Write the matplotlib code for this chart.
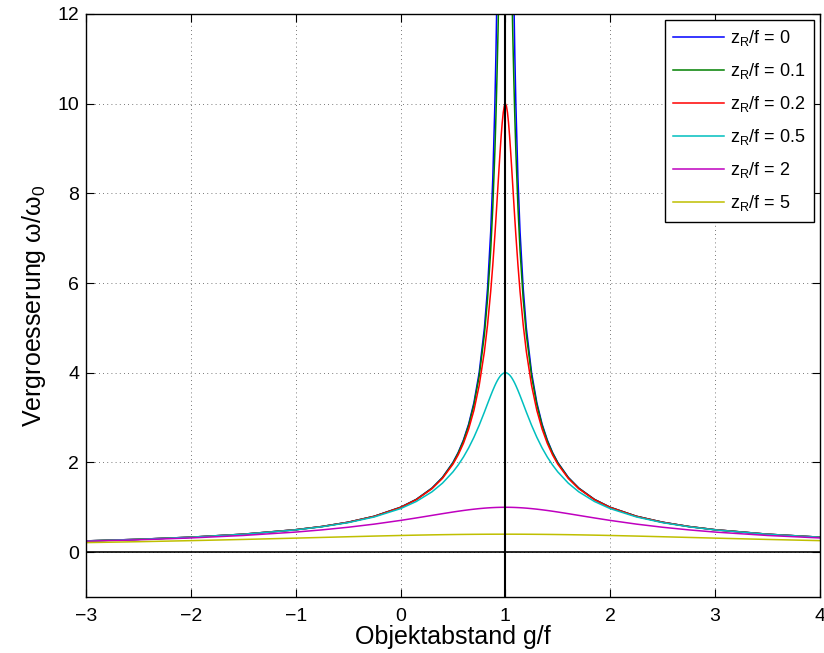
import numpy as np
import matplotlib
matplotlib.use("Agg")
import matplotlib.pyplot as plt

plt.rcParams['font.family'] = ['Liberation Sans', 'DejaVu Sans']
plt.rcParams['mathtext.default'] = 'regular'

# curves are symmetric about the focus g/f = 1; values read as a function of
# the distance |g/f - 1| (left branch reaches 4, right branch reaches 3)
dist = [0, 0.01, 0.02, 0.03, 0.04, 0.05, 0.06, 0.07, 0.08, 0.09, 0.1, 0.12,
        0.14, 0.17, 0.2, 0.25, 0.3, 0.35, 0.4, 0.45, 0.5, 0.6, 0.7, 0.85, 1.0,
        1.25, 1.5, 1.75, 2.0, 2.5, 3.0, 3.5, 4.0]
focus = 1.0
x_min, x_max = -3, 4

zr_labels = ['0', '0.1', '0.2', '0.5', '2', '5']

m_0 = [np.nan, 100, 50, 33.3, 25, 20, 16.67, 14.29, 12.5, 11.11, 10, 8.333,
       7.143, 5.882, 5, 4, 3.333, 2.857, 2.5, 2.222, 2, 1.667, 1.429, 1.176,
       1, 0.8, 0.667, 0.571, 0.5, 0.4, 0.333, 0.286, 0.25]
m_01 = [20, 19.61, 18.57, 17.15, 15.62, 14.14, 12.80, 11.62, 10.60, 9.713,
        8.944, 7.692, 6.727, 5.643, 4.851, 3.922, 3.288, 2.828, 2.481, 2.209,
        1.990, 1.661, 1.425, 1.174, 0.9988, 0.7994, 0.6664, 0.5713, 0.4998,
        0.4, 0.3333, 0.2857, 0.25]
m_02 = [10, 9.950, 9.806, 9.578, 9.285, 8.944, 8.575, 8.192, 7.809, 7.433,
        7.071, 6.402, 5.812, 5.070, 4.472, 3.714, 3.162, 2.747, 2.425, 2.169,
        1.961, 1.644, 1.414, 1.168, 0.995, 0.7975, 0.6652, 0.5705, 0.4994,
        0.3997, 0.3332, 0.2856, 0.2499]
m_05 = [4, 3.997, 3.987, 3.971, 3.950, 3.922, 3.890, 3.852, 3.810, 3.764,
        3.714, 3.606, 3.490, 3.308, 3.123, 2.828, 2.561, 2.325, 2.120, 1.943,
        1.789, 1.538, 1.345, 1.129, 0.9701, 0.7845, 0.6576, 0.5657, 0.4961,
        0.3980, 0.3322, 0.2850, 0.2495]
m_2 = [1, 1, 0.9998, 0.9996, 0.9992, 0.9988, 0.9982, 0.9976, 0.9968, 0.9960,
       0.9950, 0.9929, 0.9903, 0.9859, 0.9806, 0.9701, 0.9578, 0.9439, 0.9285,
       0.9119, 0.8944, 0.8575, 0.8192, 0.7619, 0.7071, 0.6247, 0.5547, 0.4961,
       0.4472, 0.3714, 0.3162, 0.2747, 0.2425]
m_5 = [0.4, 0.4, 0.4, 0.4, 0.4, 0.4, 0.4, 0.3999, 0.3998, 0.3998, 0.3997,
       0.3995, 0.3994, 0.3991, 0.3987, 0.3980, 0.3971, 0.3961, 0.3950, 0.3937,
       0.3922, 0.3890, 0.3852, 0.3787, 0.3714, 0.3578, 0.3430, 0.3277, 0.3123,
       0.2828, 0.2561, 0.2325, 0.2120]

curves = [m_0, m_01, m_02, m_05, m_2, m_5]
colors = [(0, 0, 1), (0, 0.5, 0), (1, 0, 0), (0, 0.75, 0.75),
          (0.75, 0, 0.75), (0.75, 0.75, 0)]

d = np.array(dist)
right = d[1:] <= x_max - focus
xs = np.concatenate([focus - d[::-1], focus + d[1:][right]])

fig = plt.figure(figsize=(8.24, 6.53), dpi=100)
ax = fig.add_axes([0.1044, 0.0858, 0.8906, 0.8928])

for vals, c, lab in zip(curves, colors, zr_labels):
    v = np.array(vals)
    ys = np.concatenate([v[::-1], v[1:][right]])
    ax.plot(xs, ys, color=c, lw=1.1, label='z$_R$/f = ' + lab)

ax.axhline(0, color='k', lw=1.2)
ax.axvline(focus, color='k', lw=1.5)

ax.set_xlim(x_min, x_max)
ax.set_ylim(-1, 12)
ax.set_yticks(range(0, 13, 2))
ax.set_xticks(range(x_min, x_max + 1))
ax.set_xticklabels(['\u22123', '\u22122', '\u22121', '0', '1', '2', '3', '4'])
ax.grid(True, linestyle=(0, (1, 4)), color='k', lw=0.6, alpha=0.7)
ax.tick_params(direction='in', top=True, right=True, labelsize=14, length=6)
ax.tick_params(axis='x', pad=8)
ax.tick_params(axis='y', pad=5)
for s in ax.spines.values():
    s.set_linewidth(1.0)

ax.set_xlabel('Objektabstand g/f', fontsize=18, labelpad=0)
ax.set_ylabel('Vergroesserung $\\omega/\\omega_0$', fontsize=18, labelpad=7)

leg = ax.legend(loc='upper right', fontsize=13, fancybox=False, framealpha=1,
                edgecolor='k', handlelength=2.8, handletextpad=0.35,
                borderaxespad=0.35, labelspacing=0.72, borderpad=0.45)
leg.get_frame().set_linewidth(1.0)

fig.savefig('out.png', dpi=100)
